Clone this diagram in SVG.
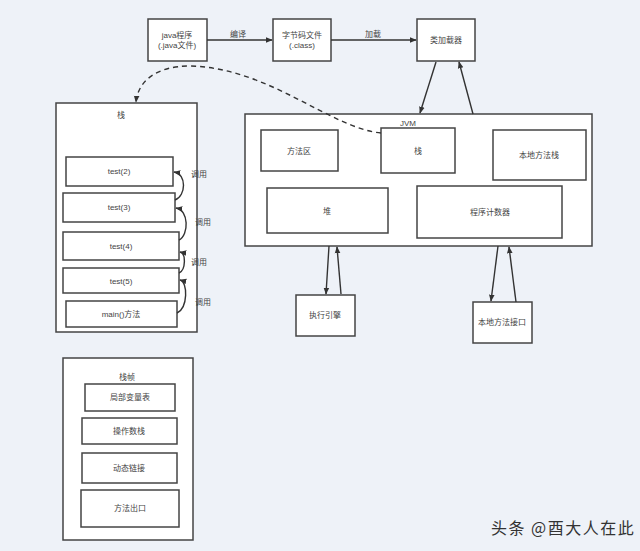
<svg xmlns="http://www.w3.org/2000/svg" width="640" height="551" viewBox="0 0 640 551">
<defs>
<style>
.b{fill:#fff;stroke:#444;stroke-width:1.5}
.t{font-family:"Liberation Sans","Noto Sans CJK SC",sans-serif;font-size:8px;fill:#444;text-anchor:middle}
.l{fill:none;stroke:#333;stroke-width:1.4}
.d{fill:none;stroke:#333;stroke-width:1.4;stroke-dasharray:5 4}
</style>
<marker id="a" viewBox="0 0 10 10" refX="9" refY="5" markerWidth="7" markerHeight="7" orient="auto-start-reverse" markerUnits="userSpaceOnUse">
<path d="M0,1 L10,5 L0,9 Z" fill="#333"/>
</marker>
</defs>
<rect width="640" height="551" fill="#eef2f8"/>
<g id="java"><rect class="b" x="148" y="19" width="59" height="42"/><text class="t" x="177" y="38">java程序</text><text class="t" x="177" y="48">(.java文件)</text></g>
<g id="bytecode"><rect class="b" x="273" y="19" width="58" height="42"/><text class="t" x="302" y="38">字节码文件</text><text class="t" x="302" y="48">(.class)</text></g>
<g id="classloader"><rect class="b" x="417" y="19" width="58" height="42"/><text class="t" x="446" y="43">类加载器</text></g>
<g id="jvm"><rect class="b" x="245" y="114" width="347" height="132"/><text class="t" x="408" y="126">JVM</text></g>
<g id="method-area"><rect class="b" x="261" y="130" width="77" height="41"/><text class="t" x="299" y="154">方法区</text></g>
<g id="jvm-stack"><rect class="b" x="381" y="128" width="74" height="45"/><text class="t" x="418" y="154">栈</text></g>
<g id="native-stack"><rect class="b" x="493" y="130" width="93" height="50"/><text class="t" x="539" y="158">本地方法栈</text></g>
<g id="heap"><rect class="b" x="267" y="188" width="121" height="45"/><text class="t" x="327" y="214">堆</text></g>
<g id="pc"><rect class="b" x="417" y="186" width="145" height="52"/><text class="t" x="490" y="215">程序计数器</text></g>
<g id="engine"><rect class="b" x="296" y="295" width="59" height="41"/><text class="t" x="325" y="318">执行引擎</text></g>
<g id="native-if"><rect class="b" x="473" y="302" width="59" height="41"/><text class="t" x="502" y="325">本地方法接口</text></g>
<g id="stack"><rect class="b" x="56" y="103" width="141" height="229"/><text class="t" x="121" y="118">栈</text></g>
<g id="test2"><rect class="b" x="66" y="157" width="107" height="29"/><text class="t" x="119" y="174">test(2)</text></g>
<g id="test3"><rect class="b" x="63" y="193" width="112" height="29"/><text class="t" x="119" y="210">test(3)</text></g>
<g id="test4"><rect class="b" x="63" y="232" width="116" height="28"/><text class="t" x="121" y="249">test(4)</text></g>
<g id="test5"><rect class="b" x="63" y="268" width="116" height="25"/><text class="t" x="121" y="284">test(5)</text></g>
<g id="main"><rect class="b" x="66" y="301" width="111" height="26"/><text class="t" x="121" y="317">main()方法</text></g>
<g id="frame"><rect class="b" x="63" y="358" width="130" height="182"/><text class="t" x="127" y="380">栈帧</text></g>
<g id="locals"><rect class="b" x="85" y="384" width="90" height="27"/><text class="t" x="130" y="400">局部变量表</text></g>
<g id="operand"><rect class="b" x="82" y="418" width="95" height="26"/><text class="t" x="129" y="434">操作数栈</text></g>
<g id="dynlink"><rect class="b" x="82" y="453" width="95" height="30"/><text class="t" x="129" y="471">动态链接</text></g>
<g id="exit"><rect class="b" x="81" y="490" width="98" height="37"/><text class="t" x="130" y="511">方法出口</text></g>
<g id="connectors">
<line class="l" x1="207" y1="40" x2="272" y2="40" marker-end="url(#a)"/>
<text class="t" x="238" y="37">编译</text>
<line class="l" x1="331" y1="40" x2="416" y2="40" marker-end="url(#a)"/>
<text class="t" x="373" y="37">加载</text>
<line class="l" x1="436" y1="62" x2="420" y2="113" marker-end="url(#a)"/>
<line class="l" x1="473" y1="114" x2="459" y2="62" marker-end="url(#a)"/>
<path class="d" d="M381,133 C330,128 270,68 190,66 C155,66 138,82 136,102" marker-end="url(#a)"/>
<line class="l" x1="329" y1="246" x2="326" y2="294" marker-end="url(#a)"/>
<line class="l" x1="341" y1="294" x2="337" y2="247" marker-end="url(#a)"/>
<line class="l" x1="498" y1="246" x2="491" y2="301" marker-end="url(#a)"/>
<line class="l" x1="516" y1="302" x2="509" y2="247" marker-end="url(#a)"/>
<path class="l" d="M175,200 C186,196 187,174 174,172" marker-end="url(#a)"/>
<path class="l" d="M179,240 C189,235 189,210 176,208" marker-end="url(#a)"/>
<path class="l" d="M179,273 C186,270 186,253 180,252" marker-end="url(#a)"/>
<path class="l" d="M177,313 C188,308 188,282 180,280" marker-end="url(#a)"/>
<text class="t" x="199" y="177">调用</text>
<text class="t" x="203" y="225">调用</text>
<text class="t" x="199" y="265">调用</text>
<text class="t" x="203" y="305">调用</text>
</g>
<text x="491" y="534" style="font-family:'Noto Sans CJK SC',sans-serif;font-size:16px;letter-spacing:1.5px;fill:#333">头条 @酉大人在此</text>
</svg>
